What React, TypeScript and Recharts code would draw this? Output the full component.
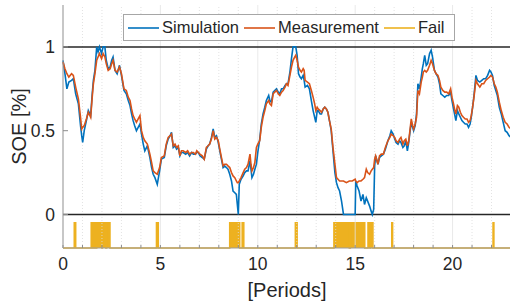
import React from "react";
import { ComposedChart, Line, Area, XAxis, YAxis, ReferenceLine, Legend } from "recharts";

const T = [
  0.0, 0.1, 0.2, 0.3, 0.44, 0.53, 0.65, 0.79, 0.9, 0.96,
  1.01, 1.09, 1.2, 1.3, 1.42, 1.5, 1.56, 1.64, 1.73, 1.8,
  1.87, 1.98, 2.06, 2.15, 2.22, 2.32, 2.42, 2.5, 2.57, 2.67,
  2.78, 2.9, 3.0, 3.13, 3.25, 3.35, 3.44, 3.52, 3.6, 3.68,
  3.77, 3.86, 3.95, 4.03, 4.12, 4.2, 4.33, 4.46, 4.55, 4.63,
  4.72, 4.84, 4.96, 5.05, 5.2, 5.3, 5.4, 5.5, 5.57, 5.66,
  5.75, 5.83, 5.92, 6.0, 6.08, 6.17, 6.3, 6.4, 6.5, 6.6,
  6.69, 6.8, 6.87, 6.95, 7.03, 7.15, 7.25, 7.36, 7.45, 7.53,
  7.62, 7.71, 7.79, 7.88, 7.97, 8.05, 8.1, 8.22, 8.3, 8.39,
  8.47, 8.56, 8.65, 8.73, 8.82, 8.9, 8.95, 9.0, 9.05, 9.14,
  9.25, 9.33, 9.42, 9.5, 9.6, 9.65, 9.7, 9.78, 9.85, 9.93,
  10.0, 10.1, 10.18, 10.27, 10.36, 10.44, 10.56, 10.62, 10.7, 10.79,
  10.87, 10.96, 11.05, 11.13, 11.22, 11.3, 11.4, 11.47, 11.55, 11.65,
  11.73, 11.81, 11.9, 11.95, 12.02, 12.09, 12.17, 12.24, 12.33, 12.38,
  12.43, 12.55, 12.65, 12.75, 12.84, 12.92, 12.98, 13.05, 13.1, 13.2,
  13.27, 13.36, 13.44, 13.52, 13.6, 13.68, 13.77, 13.86, 13.96, 14.04,
  14.12, 14.2, 14.3, 14.4, 14.55, 14.7, 14.85, 15.0, 15.03, 15.1,
  15.2, 15.3, 15.4, 15.48, 15.57, 15.64, 15.74, 15.82, 15.88, 15.95,
  16.0, 16.05, 16.17, 16.25, 16.34, 16.45, 16.55, 16.68, 16.78, 16.85,
  16.95, 17.03, 17.1, 17.2, 17.28, 17.35, 17.45, 17.52, 17.6, 17.68,
  17.75, 17.8, 17.88, 17.95, 18.0, 18.08, 18.15, 18.22, 18.3, 18.39,
  18.45, 18.5, 18.57, 18.65, 18.72, 18.82, 18.9, 18.97, 19.07, 19.15,
  19.25, 19.33, 19.4, 19.5, 19.6, 19.7, 19.8, 19.9, 19.97, 20.05,
  20.12, 20.17, 20.25, 20.32, 20.4, 20.48, 20.56, 20.65, 20.74, 20.82,
  20.9, 20.96, 21.03, 21.1, 21.2, 21.28, 21.4, 21.5, 21.6, 21.7,
  21.8, 21.9, 21.97, 22.05, 22.14, 22.22, 22.3, 22.4, 22.5, 22.6,
  22.7, 22.8, 22.9, 23.0,
];

const MEAS = [
  0.91, 0.87, 0.84, 0.82, 0.84, 0.83, 0.76, 0.69, 0.58, 0.51,
  0.52, 0.53, 0.57, 0.61, 0.58, 0.70, 0.78, 0.84, 0.92, 0.94,
  0.96, 0.93, 0.96, 0.94, 0.90, 0.86, 0.87, 0.90, 0.92, 0.86,
  0.85, 0.88, 0.84, 0.75, 0.74, 0.70, 0.68, 0.63, 0.59, 0.57,
  0.55, 0.57, 0.59, 0.50, 0.46, 0.44, 0.42, 0.36, 0.31, 0.26,
  0.25, 0.24, 0.28, 0.34, 0.35, 0.42, 0.46, 0.47, 0.48, 0.41,
  0.42, 0.40, 0.41, 0.35, 0.38, 0.38, 0.37, 0.38, 0.36, 0.37,
  0.37, 0.36, 0.38, 0.37, 0.36, 0.35, 0.33, 0.40, 0.41, 0.42,
  0.45, 0.50, 0.45, 0.46, 0.44, 0.39, 0.36, 0.29, 0.30, 0.30,
  0.29, 0.28, 0.25, 0.23, 0.22, 0.20, 0.19, 0.19, 0.20, 0.22,
  0.25, 0.27, 0.28, 0.30, 0.36, 0.30, 0.26, 0.28, 0.31, 0.40,
  0.42, 0.44, 0.52, 0.58, 0.62, 0.66, 0.68, 0.66, 0.65, 0.72,
  0.73, 0.74, 0.72, 0.71, 0.73, 0.74, 0.76, 0.78, 0.77, 0.83,
  0.88, 0.92, 0.94, 0.95, 0.92, 0.88, 0.86, 0.85, 0.87, 0.86,
  0.80, 0.79, 0.78, 0.74, 0.70, 0.66, 0.62, 0.64, 0.63, 0.62,
  0.61, 0.63, 0.64, 0.63, 0.61, 0.56, 0.51, 0.40, 0.30, 0.22,
  0.21, 0.20, 0.20, 0.20, 0.19, 0.20, 0.20, 0.21, 0.20, 0.19,
  0.20, 0.20, 0.21, 0.22, 0.27, 0.25, 0.24, 0.26, 0.27, 0.28,
  0.33, 0.35, 0.30, 0.35, 0.36, 0.36, 0.40, 0.44, 0.46, 0.48,
  0.47, 0.46, 0.44, 0.43, 0.45, 0.46, 0.42, 0.44, 0.45, 0.41,
  0.44, 0.49, 0.57, 0.53, 0.51, 0.54, 0.58, 0.74, 0.72, 0.79,
  0.82, 0.85, 0.86, 0.85, 0.86, 0.89, 0.92, 0.90, 0.86, 0.84,
  0.83, 0.80, 0.76, 0.74, 0.73, 0.73, 0.72, 0.75, 0.70, 0.66,
  0.62, 0.60, 0.65, 0.64, 0.61, 0.59, 0.58, 0.57, 0.57, 0.55,
  0.56, 0.59, 0.64, 0.70, 0.80, 0.78, 0.76, 0.78, 0.78, 0.80,
  0.81, 0.82, 0.83, 0.82, 0.78, 0.76, 0.73, 0.67, 0.62, 0.58,
  0.55, 0.54, 0.52, 0.51,
];

const SIM = [
  0.92, 0.84, 0.75, 0.79, 0.80, 0.81, 0.72, 0.66, 0.53, 0.47,
  0.43, 0.50, 0.56, 0.62, 0.59, 0.72, 0.80, 0.86, 1.0, 0.97,
  1.0, 0.96, 1.0, 1.0, 0.92, 0.87, 0.88, 0.92, 0.94, 0.86,
  0.84, 0.89, 0.83, 0.74, 0.72, 0.68, 0.65, 0.60, 0.56, 0.53,
  0.50, 0.52, 0.54, 0.48, 0.42, 0.38, 0.41, 0.34, 0.28, 0.24,
  0.22, 0.18, 0.26, 0.33, 0.34, 0.41, 0.45, 0.47, 0.49, 0.40,
  0.41, 0.39, 0.40, 0.35, 0.37, 0.37, 0.36, 0.37, 0.35, 0.37,
  0.36, 0.36, 0.37, 0.37, 0.35, 0.34, 0.33, 0.39, 0.41, 0.42,
  0.46, 0.51, 0.46, 0.47, 0.43, 0.38, 0.35, 0.28, 0.29, 0.28,
  0.27, 0.24, 0.20, 0.14, 0.13, 0.12, 0.06, 0.0, 0.18, 0.21,
  0.23, 0.25, 0.26, 0.26, 0.32, 0.27, 0.22, 0.24, 0.27, 0.30,
  0.37, 0.45, 0.54, 0.60, 0.64, 0.68, 0.71, 0.68, 0.67, 0.73,
  0.74, 0.75, 0.73, 0.72, 0.75, 0.75, 0.77, 0.78, 0.78, 0.85,
  0.93, 1.0, 1.0, 1.0, 0.95, 0.84, 0.82, 0.81, 0.83, 0.80,
  0.76, 0.77, 0.75, 0.68, 0.62, 0.58, 0.55, 0.62, 0.62, 0.60,
  0.60, 0.63, 0.64, 0.63, 0.61, 0.56, 0.50, 0.38, 0.25, 0.19,
  0.16, 0.14, 0.08, 0.0, 0.0, 0.0, 0.0, 0.0, 0.20, 0.17,
  0.14, 0.08, 0.12, 0.06, 0.10, 0.08, 0.05, 0.02, 0.0, 0.03,
  0.29, 0.35, 0.30, 0.34, 0.35, 0.36, 0.39, 0.44, 0.47, 0.50,
  0.48, 0.45, 0.43, 0.42, 0.44, 0.43, 0.40, 0.41, 0.44, 0.38,
  0.43, 0.48, 0.55, 0.52, 0.50, 0.53, 0.60, 0.78, 0.75, 0.82,
  0.87, 0.90, 0.95, 0.89, 0.90, 0.96, 0.98, 0.94, 0.86, 0.84,
  0.82, 0.78, 0.72, 0.71, 0.70, 0.71, 0.71, 0.73, 0.68, 0.63,
  0.59, 0.56, 0.62, 0.60, 0.58, 0.56, 0.55, 0.54, 0.54, 0.52,
  0.54, 0.58, 0.64, 0.71, 0.83, 0.80, 0.79, 0.80, 0.81, 0.81,
  0.83, 0.86, 0.85, 0.83, 0.77, 0.74, 0.71, 0.64, 0.60, 0.55,
  0.50, 0.49, 0.47, 0.46,
];

// fail flag: on between start/end, drawn as a pulse below zero
const FAIL_START = [0.58, 1.45, 1.55, 1.63, 1.73, 2.02, 2.24, 4.8, 8.56, 9.2, 11.93, 13.91, 14.75, 15.66, 15.8, 16.88, 22.08];
const FAIL_END = [0.65, 1.49, 1.59, 1.67, 2.0, 2.2, 2.41, 4.89, 9.07, 9.28, 12.02, 14.7, 15.49, 15.76, 15.91, 16.92, 22.12];
const FAIL_LOW = -0.2;
const FAIL_HIGH = -0.05;

const X_TICKS = [0, 5, 10, 15, 20];
const X_MINOR = Array.from({ length: 24 }, (_, i) => i);
const Y_TICKS = [0, 0.5, 1];

const BLUE = "#0072BD";
const ORANGE = "#D95319";
const YELLOW = "#EDB120";
const FONT = "'Liberation Sans', Arial, sans-serif";

const simData = T.map((t, i) => ({ t, v: SIM[i] }));
const measData = T.map((t, i) => ({ t, v: MEAS[i] }));
const failData = [{ t: 0, v: FAIL_LOW }];
FAIL_START.forEach((s, i) => {
  failData.push({ t: s, v: FAIL_LOW }, { t: s, v: FAIL_HIGH }, { t: FAIL_END[i], v: FAIL_HIGH }, { t: FAIL_END[i], v: FAIL_LOW });
});
failData.push({ t: 23, v: FAIL_LOW });

const ITEMS = [
  { name: "Simulation", color: BLUE },
  { name: "Measurement", color: ORANGE },
  { name: "Fail", color: YELLOW },
];

function LegendBox() {
  return (
    <div style={{
      display: "flex", alignItems: "center", height: 25, padding: "0 4px",
      border: "1px solid #a6a6a6", background: "#fff", fontFamily: FONT, fontSize: 16.5, color: "#262626",
    }}>
      {ITEMS.map((it) => (
        <div key={it.name} style={{ display: "flex", alignItems: "center", marginRight: 5 }}>
          <svg width={31} height={4} style={{ marginRight: 3 }}>
            <line x1={0} y1={2} x2={31} y2={2} stroke={it.color} strokeWidth={1.6} />
          </svg>
          <span>{it.name}</span>
        </div>
      ))}
    </div>
  );
}

export default function App() {
  return (
    <div style={{ position: "absolute", left: 0, top: 0, background: "#fff" }}>
      <ComposedChart width={520} height={303} margin={{ top: 5, right: 9, bottom: 0, left: 0 }}>
        <XAxis
          xAxisId="top" orientation="top" type="number" dataKey="t" domain={[0, 23]} ticks={X_MINOR}
          height={0} tick={false} tickSize={-3} axisLine={{ stroke: "#c8c8c8" }} tickLine={{ stroke: "#8c8c8c" }}
        />
        <XAxis
          type="number" dataKey="t" domain={[0, 23]} ticks={X_MINOR} height={55}
          tickFormatter={(v) => (X_TICKS.includes(v) ? String(v) : "")}
          tick={{ fontSize: 17.5, fill: "#262626", fontFamily: FONT }}
          tickSize={-3} tickMargin={13} axisLine={{ stroke: "#9a9a9a" }} tickLine={{ stroke: "#8c8c8c" }}
          label={{ value: "[Periods]", position: "center", dy: 14, fontSize: 20, fill: "#262626", fontFamily: FONT }}
        />
        <YAxis
          type="number" domain={[-0.2, 1.25]} ticks={Y_TICKS} width={63}
          tick={{ fontSize: 17.5, fill: "#262626", fontFamily: FONT }}
          tickSize={-5} tickMargin={13} axisLine={{ stroke: "#9a9a9a" }} tickLine={{ stroke: "#8c8c8c" }}
          label={{ value: "SOE [%]", angle: -90, position: "center", dx: -13, fontSize: 20, fill: "#262626", fontFamily: FONT }}
        />
        {X_MINOR.map((x) => (
          <ReferenceLine
            key={x} x={x} stroke={X_TICKS.includes(x) ? "#e3e3e3" : "#dadada"}
            strokeDasharray={X_TICKS.includes(x) ? undefined : "1 2"} strokeWidth={0.8}
          />
        ))}
        <ReferenceLine y={1} stroke="#262626" strokeWidth={1.5} />
        <ReferenceLine y={0} stroke="#262626" strokeWidth={1.5} />
        <Line data={simData} dataKey="v" name="Simulation" type="linear" stroke={BLUE} strokeWidth={1.6} dot={false} isAnimationActive={false} />
        <Line data={measData} dataKey="v" name="Measurement" type="linear" stroke={ORANGE} strokeWidth={1.6} dot={false} isAnimationActive={false} />
        <Area
          data={failData} dataKey="v" name="Fail" type="linear" baseValue={FAIL_LOW}
          stroke={YELLOW} strokeWidth={1.6} fill={YELLOW} fillOpacity={1} isAnimationActive={false}
        />
        <Legend
          layout="horizontal" align="center" verticalAlign="middle" content={() => <LegendBox />}
          wrapperStyle={{ position: "absolute", left: 123, top: 14, width: "auto" }}
        />
      </ComposedChart>
    </div>
  );
}
